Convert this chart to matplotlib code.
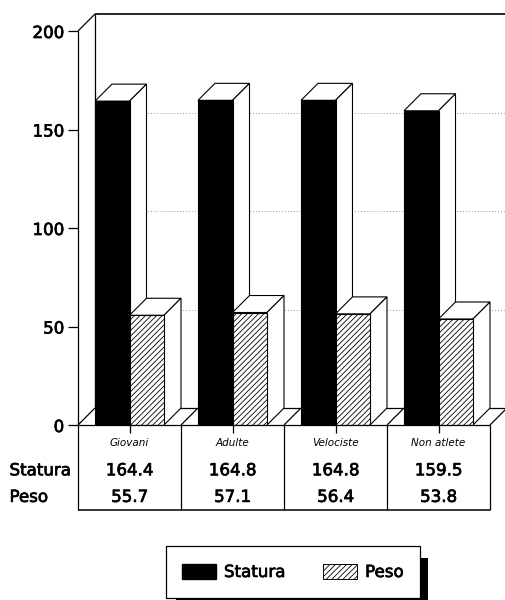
import matplotlib
matplotlib.use('Agg')
import matplotlib.pyplot as plt
import matplotlib.patheffects as pe
from matplotlib.patches import Patch, Polygon, Rectangle

plt.rcParams['font.family'] = ['DejaVu Sans']
plt.rcParams['hatch.linewidth'] = 0.6

categories = ['Giovani', 'Adulte', 'Velociste', 'Non atlete']
statura = [164.4, 164.8, 164.8, 159.5]
peso = [55.7, 57.1, 56.4, 53.8]
y_ticks = [0, 50, 100, 150, 200]
grid_values = [50, 100, 150]

# depth of the fake 3d look, in data units
dx = 17 / 103
dy = 17 / 1.97
bar_w = 34.5 / 103
table_bottom = -43
heavy = [pe.withStroke(linewidth=0.5, foreground='black')]

fig = plt.figure(figsize=(5.05, 6), dpi=100)
ax = fig.add_axes([78 / 505, 175 / 600, 412 / 505, 394 / 600])
ax.set_xlim(0, 4)
ax.set_ylim(0, 200)
for s in ax.spines.values():
    s.set_visible(False)
ax.patch.set_visible(False)


def line(xs, ys, **kw):
    kw.setdefault('color', 'black')
    kw.setdefault('lw', 0.9)
    kw.setdefault('zorder', 1)
    ax.plot(xs, ys, clip_on=False, solid_capstyle='butt', **kw)


def draw_bar(x, val, face, hatch, z):
    ax.bar(x, val, bar_w, align='edge', color=face, edgecolor='black', lw=0.8, hatch=hatch, zorder=z + 1)
    top = [(x, val), (x + bar_w, val), (x + bar_w + dx, val + dy), (x + dx, val + dy)]
    side = [(x + bar_w, 0), (x + bar_w + dx, dy), (x + bar_w + dx, val + dy), (x + bar_w, val)]
    for pts in (top, side):
        ax.add_patch(Polygon(pts, closed=True, facecolor='white', edgecolor='black', lw=0.8, zorder=z, clip_on=False))


# walls and floor
line([0, 0], [0, 200])
line([dx, dx], [dy, 200 + dy])
line([0, dx], [200, 200 + dy])
line([dx, 4 + dx], [200 + dy, 200 + dy], lw=1.2)
line([0, 4], [0, 0], zorder=20)
line([dx, 4 + dx], [dy, dy])
for i in range(5):
    line([i, i + dx], [0, dy])
for g in grid_values:
    line([dx, 4 + dx], [g + dy, g + dy], color='#999999', lw=0.7, ls=(0, (1, 2)), zorder=0.5)

# bars, left to right
for i in range(len(categories)):
    z = 2 + i * 3
    draw_bar(i + 0.5 - bar_w, statura[i], 'black', None, z)
    draw_bar(i + 0.5, peso[i], 'white', '//////', z + 1)

ax.set_yticks(y_ticks)
ax.tick_params(axis='y', length=7, width=0.9, pad=3, labelsize=12)
for t in ax.get_yticklabels():
    t.set_path_effects(heavy)
ax.set_xticks([i + 0.5 for i in range(4)], categories)
ax.tick_params(axis='x', length=6, width=0.9, pad=3, labelsize=7.5)
for t in ax.get_xticklabels():
    t.set_fontstyle('italic')

# data table under the chart
for i in range(5):
    line([i, i], [0, table_bottom])
line([0, 4], [table_bottom, table_bottom], lw=1.1)
rows = [('Statura', statura, -23), ('Peso', peso, -36.5)]
for name, vals, y in rows:
    ax.text(-0.665, y, name, fontsize=12, va='center', ha='left', path_effects=heavy)
    for i, v in enumerate(vals):
        ax.text(i + 0.5, y, f'{v:.1f}', fontsize=12, va='center', ha='center', path_effects=heavy)

# legend with the heavy drop shadow
fig.add_artist(Rectangle((176 / 505, 0), 252 / 505, 42 / 600, transform=fig.transFigure,
                         facecolor='black', edgecolor='none', zorder=3))
handles = [Patch(facecolor='black', edgecolor='black', label='Statura'),
           Patch(facecolor='white', edgecolor='black', hatch='//////', lw=0.7, label='Peso')]
leg = fig.legend(handles=handles, ncol=2, loc='center', bbox_to_anchor=(293 / 505, 28 / 600),
                 fancybox=False, framealpha=1, edgecolor='black', borderpad=1.0, columnspacing=2.3,
                 handlelength=2.0, handleheight=1.05, handletextpad=0.5, fontsize=12)
leg.set_zorder(5)
leg.get_frame().set_linewidth(0.9)
for t in leg.get_texts():
    t.set_path_effects(heavy)

fig.savefig('out.png', dpi=100)
